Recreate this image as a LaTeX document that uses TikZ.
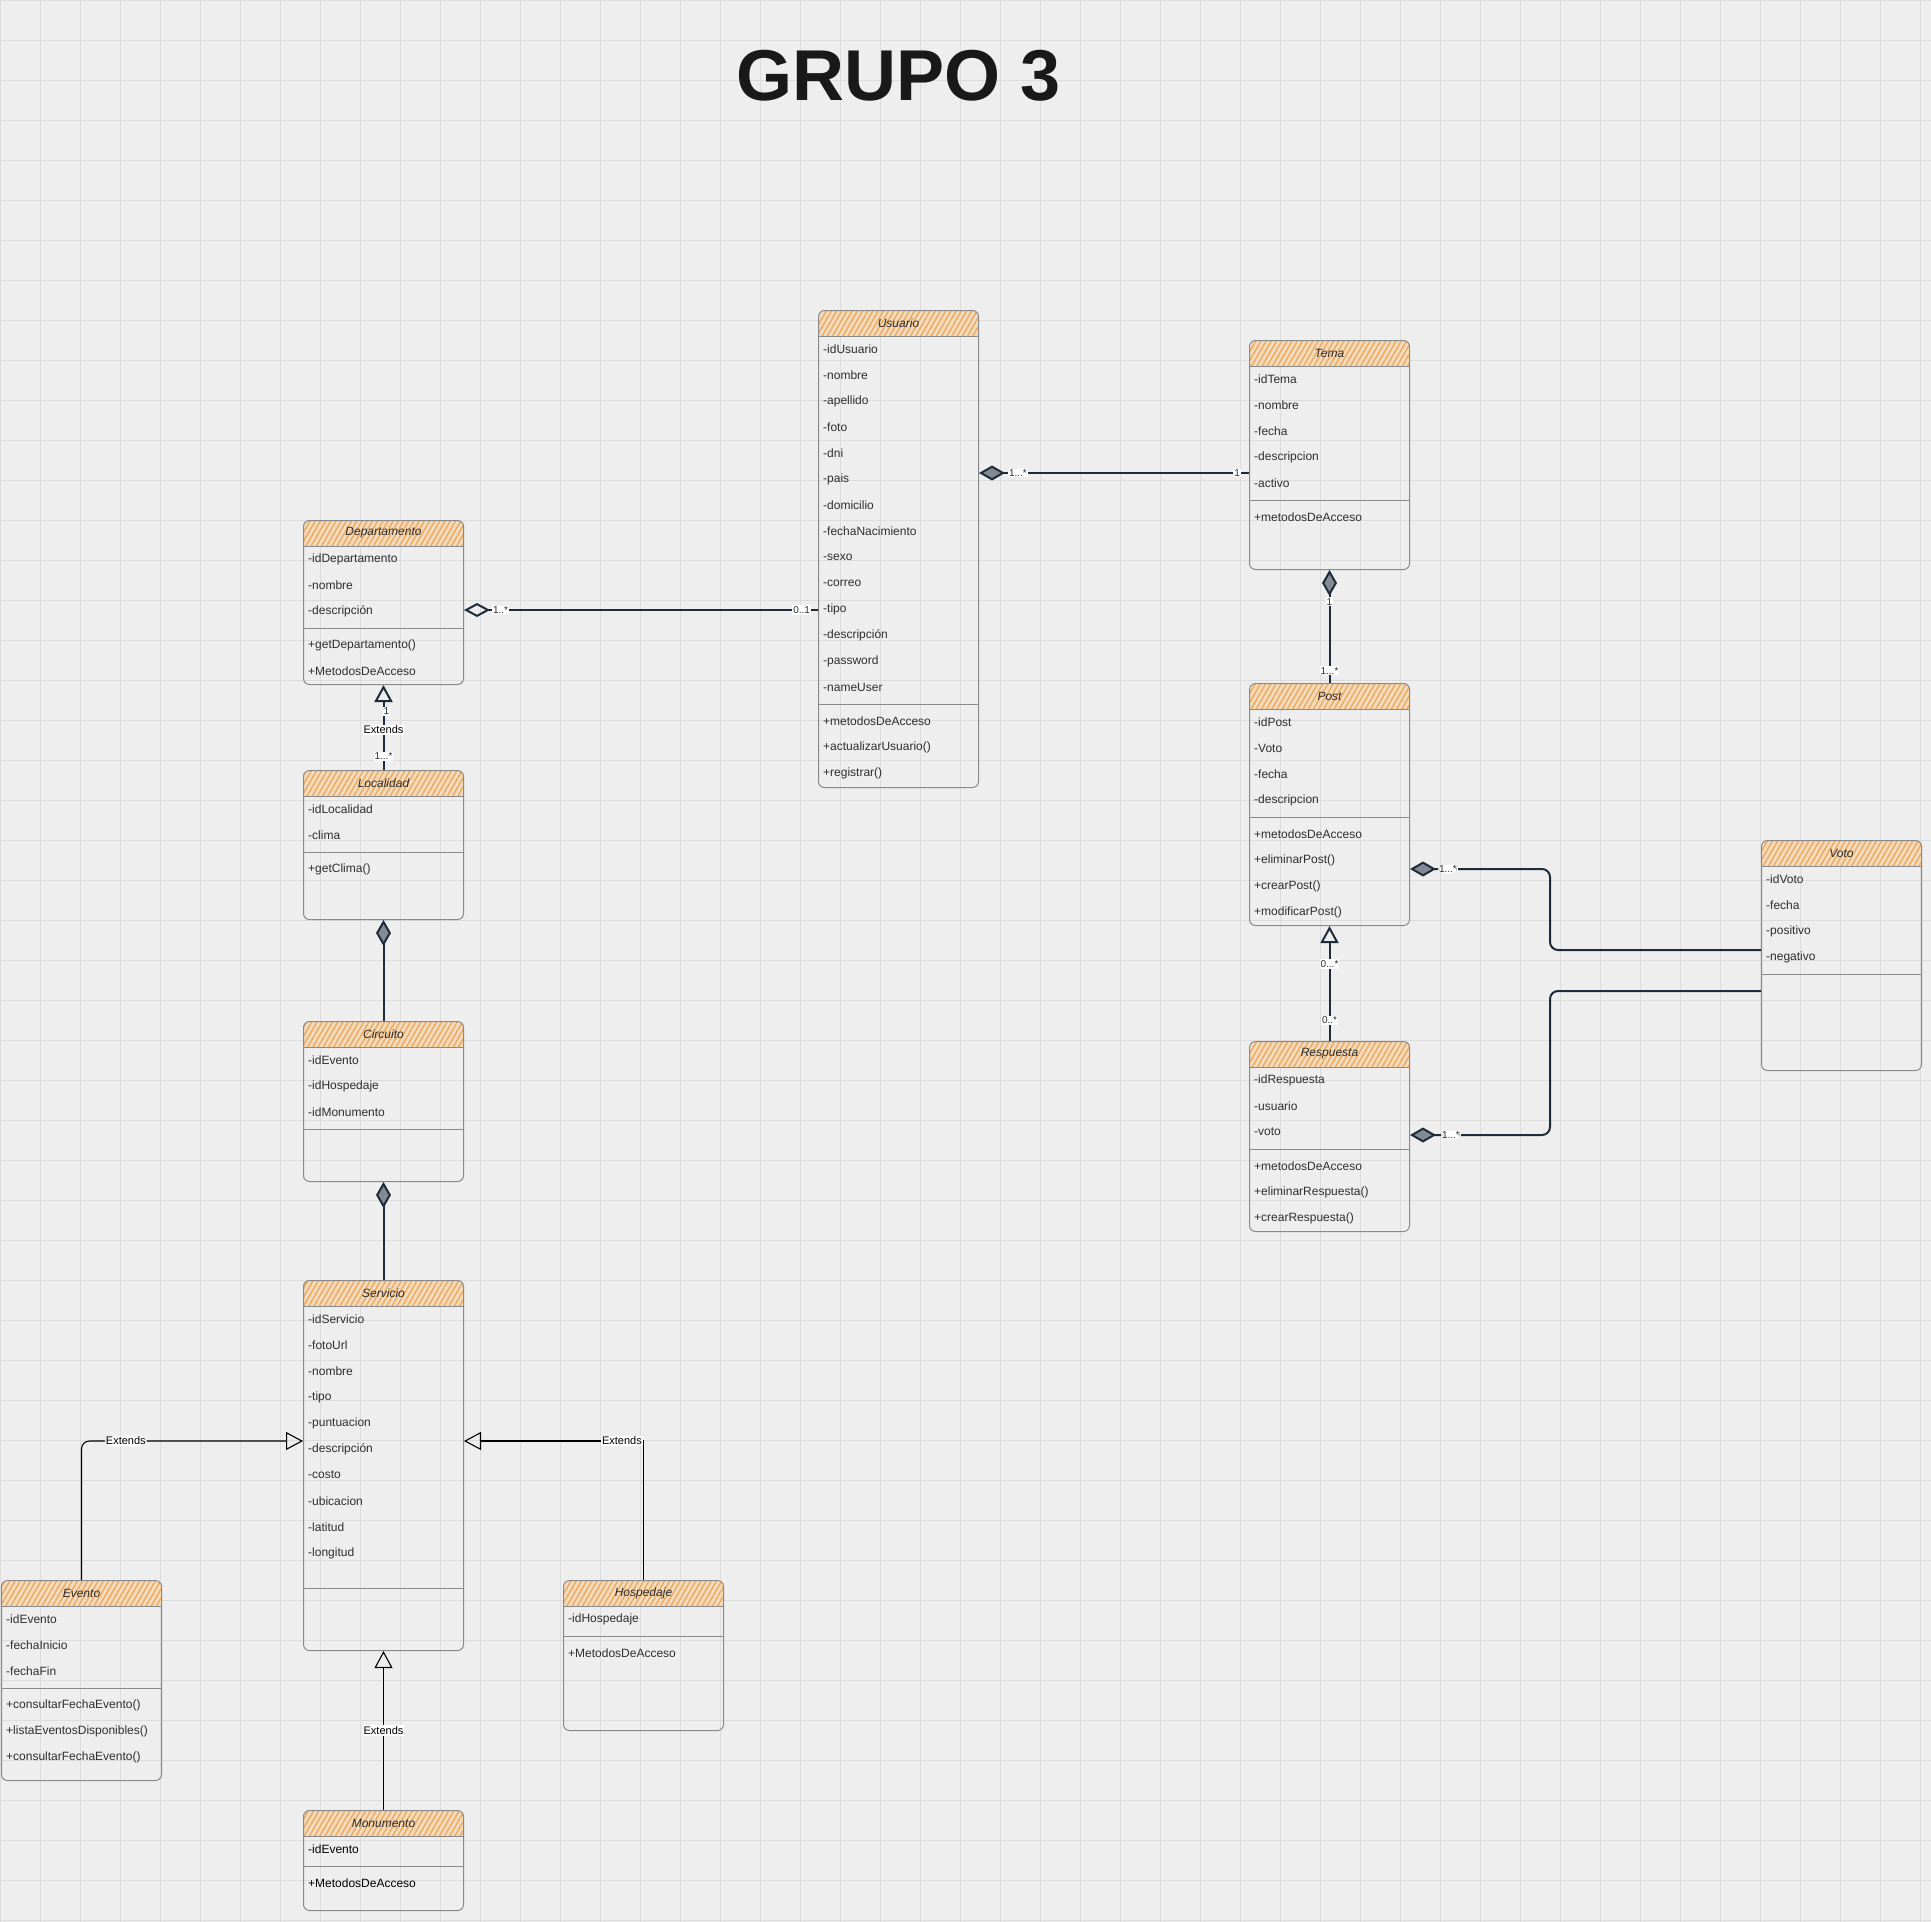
\documentclass[tikz,border=0pt]{standalone}
\usepackage{fontspec}
\setmainfont{Liberation Sans}
\usetikzlibrary{arrows.meta,patterns.meta,calc}

\definecolor{bgcol}{HTML}{EEEEEE}
\definecolor{gridcol}{HTML}{DCDCDC}
\definecolor{boxcol}{HTML}{8A8A8A}
\definecolor{headcol}{HTML}{F2DCC0}
\definecolor{hatchcol}{HTML}{F0A85A}
\definecolor{txtcol}{HTML}{2E2E2E}
\definecolor{navy}{HTML}{1E2B3A}

\tikzset{comp/.tip={Diamond[length=26pt,width=15pt,fill=navy!55]}}
\tikzset{agg/.tip={Diamond[open,length=26pt,width=14pt]}}
\tikzset{gen/.tip={Triangle[open,length=17pt,width=18pt]}}

\begin{document}
\begin{tikzpicture}[x=1pt, y=-1pt]
      \tikzstyle{cbox} = [draw=boxcol, line width=1pt, rounded corners=6pt, inner sep=0pt,
        minimum width=160pt, anchor=north west,
        path picture={
          \fill[headcol, sharp corners] (path picture bounding box.north west) rectangle ([yshift=-26pt]path picture bounding box.north east);
          \fill[sharp corners, pattern={Lines[angle=60,distance=4.5pt,line width=1.4pt]}, pattern color=hatchcol]
            (path picture bounding box.north west) rectangle ([yshift=-26pt]path picture bounding box.north east);
          \draw[boxcol, line width=1pt, sharp corners] ([yshift=-26pt]path picture bounding box.north west) -- ([yshift=-26pt]path picture bounding box.north east);
        }]
      \tikzstyle{ctitle} = [inner sep=0pt, font=\fontsize{12}{14}\selectfont\itshape, text=txtcol]
      \tikzstyle{attr} = [anchor=west, inner sep=0pt, font=\fontsize{12}{14}\selectfont, text=txtcol]
      \tikzstyle{sepline} = [draw=boxcol, line width=1pt]
      \tikzstyle{navyline} = [draw=navy, line width=2pt]
      \tikzstyle{extline} = [draw=black, line width=1.1pt]
      \tikzstyle{mult} = [fill=white, inner sep=1pt, font=\fontsize{10}{11}\selectfont, text=txtcol]
      \tikzstyle{extlabel} = [fill=white, inner sep=1pt, font=\fontsize{11}{12}\selectfont, text=black]

      % background and grid
      \useasboundingbox (0,0) rectangle (1931,1922);
      \fill[bgcol] (0,0) rectangle (1931,1922);
      \foreach \gx in {0,40,...,1920}
        \draw[gridcol, line width=0.8pt] (\gx,0) -- (\gx,1922);
      \foreach \gy in {0,40,...,1920}
        \draw[gridcol, line width=0.8pt] (0,\gy) -- (1931,\gy);

      \node[font=\fontsize{72}{72}\selectfont\bfseries, text=black!90] (titulo) at (899,76) {GRUPO 3};

      % Usuario
      \node[cbox, minimum height=477pt] (usuario) at (818,310) {};
      \node[ctitle] (usuario-t) at ([yshift=-13pt]usuario.north) {Usuario};
      \foreach \a [count=\i] in {-idUsuario,-nombre,-apellido,-foto,-dni,-pais,-domicilio,-fechaNacimiento,-sexo,-correo,-tipo,-descripción,-password,-nameUser}
        \node[attr] (usuario-a\i) at ([xshift=5pt,yshift={-13pt-26pt*\i}]usuario.north west) {\a};
      \draw[sepline] ([yshift=-394pt]usuario.north west) -- ([yshift=-394pt]usuario.north east);
      \foreach \m [count=\i] in {+metodosDeAcceso,+actualizarUsuario(),+registrar()}
        \node[attr] (usuario-m\i) at ([xshift=5pt,yshift={-385pt-26pt*\i}]usuario.north west) {\m};

      % Tema
      \node[cbox, minimum height=229pt] (tema) at (1249,340) {};
      \node[ctitle] (tema-t) at ([yshift=-13pt]tema.north) {Tema};
      \foreach \a [count=\i] in {-idTema,-nombre,-fecha,-descripcion,-activo}
        \node[attr] (tema-a\i) at ([xshift=5pt,yshift={-13pt-26pt*\i}]tema.north west) {\a};
      \draw[sepline] ([yshift=-160pt]tema.north west) -- ([yshift=-160pt]tema.north east);
      \node[attr] (tema-m1) at ([xshift=5pt,yshift=-177pt]tema.north west) {+metodosDeAcceso};

      % Departamento
      \node[cbox, minimum height=164pt] (departamento) at (303,520) {};
      \node[ctitle] (departamento-t) at ([yshift=-13pt]departamento.north) {Departamento};
      \foreach \a [count=\i] in {-idDepartamento,-nombre,-descripción}
        \node[attr] (departamento-a\i) at ([xshift=5pt,yshift={-13pt-26pt*\i}]departamento.north west) {\a};
      \draw[sepline] ([yshift=-108pt]departamento.north west) -- ([yshift=-108pt]departamento.north east);
      \foreach \m [count=\i] in {+getDepartamento(),+MetodosDeAcceso}
        \node[attr] (departamento-m\i) at ([xshift=5pt,yshift={-99pt-26pt*\i}]departamento.north west) {\m};

      % Localidad
      \node[cbox, minimum height=149pt] (localidad) at (303,770) {};
      \node[ctitle] (localidad-t) at ([yshift=-13pt]localidad.north) {Localidad};
      \foreach \a [count=\i] in {-idLocalidad,-clima}
        \node[attr] (localidad-a\i) at ([xshift=5pt,yshift={-13pt-26pt*\i}]localidad.north west) {\a};
      \draw[sepline] ([yshift=-82pt]localidad.north west) -- ([yshift=-82pt]localidad.north east);
      \node[attr] (localidad-m1) at ([xshift=5pt,yshift=-99pt]localidad.north west) {+getClima()};

      % Circuito
      \node[cbox, minimum height=160pt] (circuito) at (303,1021) {};
      \node[ctitle] (circuito-t) at ([yshift=-13pt]circuito.north) {Circuito};
      \foreach \a [count=\i] in {-idEvento,-idHospedaje,-idMonumento}
        \node[attr] (circuito-a\i) at ([xshift=5pt,yshift={-13pt-26pt*\i}]circuito.north west) {\a};
      \draw[sepline] ([yshift=-108pt]circuito.north west) -- ([yshift=-108pt]circuito.north east);

      % Servicio
      \node[cbox, minimum height=370pt] (servicio) at (303,1280) {};
      \node[ctitle] (servicio-t) at ([yshift=-13pt]servicio.north) {Servicio};
      \foreach \a [count=\i] in {-idServicio,-fotoUrl,-nombre,-tipo,-puntuacion,-descripción,-costo,-ubicacion,-latitud,-longitud}
        \node[attr] (servicio-a\i) at ([xshift=5pt,yshift={-13pt-26pt*\i}]servicio.north west) {\a};
      \draw[sepline] ([yshift=-308pt]servicio.north west) -- ([yshift=-308pt]servicio.north east);

      % Evento
      \node[cbox, minimum height=200pt] (evento) at (1,1580) {};
      \node[ctitle] (evento-t) at ([yshift=-13pt]evento.north) {Evento};
      \foreach \a [count=\i] in {-idEvento,-fechaInicio,-fechaFin}
        \node[attr] (evento-a\i) at ([xshift=5pt,yshift={-13pt-26pt*\i}]evento.north west) {\a};
      \draw[sepline] ([yshift=-108pt]evento.north west) -- ([yshift=-108pt]evento.north east);
      \foreach \m [count=\i] in {+consultarFechaEvento(),+listaEventosDisponibles(),+consultarFechaEvento()}
        \node[attr] (evento-m\i) at ([xshift=5pt,yshift={-99pt-26pt*\i}]evento.north west) {\m};

      % Hospedaje
      \node[cbox, minimum height=150pt] (hospedaje) at (563,1580) {};
      \node[ctitle] (hospedaje-t) at ([yshift=-13pt]hospedaje.north) {Hospedaje};
      \node[attr] (hospedaje-a1) at ([xshift=5pt,yshift=-39pt]hospedaje.north west) {-idHospedaje};
      \draw[sepline] ([yshift=-56pt]hospedaje.north west) -- ([yshift=-56pt]hospedaje.north east);
      \node[attr] (hospedaje-m1) at ([xshift=5pt,yshift=-73pt]hospedaje.north west) {+MetodosDeAcceso};

      % Monumento
      \node[cbox, minimum height=100pt] (monumento) at (303,1810) {};
      \node[ctitle] (monumento-t) at ([yshift=-13pt]monumento.north) {Monumento};
      \node[attr, text=black] (monumento-a1) at ([xshift=5pt,yshift=-39pt]monumento.north west) {-idEvento};
      \draw[sepline] ([yshift=-56pt]monumento.north west) -- ([yshift=-56pt]monumento.north east);
      \node[attr, text=black] (monumento-m1) at ([xshift=5pt,yshift=-73pt]monumento.north west) {+MetodosDeAcceso};

      % Post
      \node[cbox, minimum height=242pt] (post) at (1249,683) {};
      \node[ctitle] (post-t) at ([yshift=-13pt]post.north) {Post};
      \foreach \a [count=\i] in {-idPost,-Voto,-fecha,-descripcion}
        \node[attr] (post-a\i) at ([xshift=5pt,yshift={-13pt-26pt*\i}]post.north west) {\a};
      \draw[sepline] ([yshift=-134pt]post.north west) -- ([yshift=-134pt]post.north east);
      \foreach \m [count=\i] in {+metodosDeAcceso,+eliminarPost(),+crearPost(),+modificarPost()}
        \node[attr] (post-m\i) at ([xshift=5pt,yshift={-125pt-26pt*\i}]post.north west) {\m};

      % Respuesta
      \node[cbox, minimum height=190pt] (respuesta) at (1249,1041) {};
      \node[ctitle] (respuesta-t) at ([yshift=-13pt]respuesta.north) {Respuesta};
      \foreach \a [count=\i] in {-idRespuesta,-usuario,-voto}
        \node[attr] (respuesta-a\i) at ([xshift=5pt,yshift={-13pt-26pt*\i}]respuesta.north west) {\a};
      \draw[sepline] ([yshift=-108pt]respuesta.north west) -- ([yshift=-108pt]respuesta.north east);
      \foreach \m [count=\i] in {+metodosDeAcceso,+eliminarRespuesta(),+crearRespuesta()}
        \node[attr] (respuesta-m\i) at ([xshift=5pt,yshift={-99pt-26pt*\i}]respuesta.north west) {\m};

      % Voto
      \node[cbox, minimum height=230pt] (voto) at (1761,840) {};
      \node[ctitle] (voto-t) at ([yshift=-13pt]voto.north) {Voto};
      \foreach \a [count=\i] in {-idVoto,-fecha,-positivo,-negativo}
        \node[attr] (voto-a\i) at ([xshift=5pt,yshift={-13pt-26pt*\i}]voto.north west) {\a};
      \draw[sepline] ([yshift=-134pt]voto.north west) -- ([yshift=-134pt]voto.north east);

      % relations
      \draw[navyline, comp-] ([yshift=-163pt]usuario.north east) -- ([yshift=-163pt]usuario.north east -| tema.west)
        node[mult, pos=0, anchor=west, xshift=28pt] (m-ut1) {1...*}
        node[mult, pos=1, anchor=east, xshift=-7pt] (m-ut2) {1};
      \draw[navyline, agg-] ([yshift=-90pt]departamento.north east) -- ([yshift=-90pt]departamento.north east -| usuario.west)
        node[mult, pos=0, anchor=west, xshift=27pt] (m-du1) {1..*}
        node[mult, pos=1, anchor=east, xshift=-6pt] (m-du2) {0..1};
      \draw[navyline, -gen] (localidad.north) -- (departamento.south)
        node[mult, pos=0.16] (m-ld1) {1...*}
        node[extlabel, pos=0.47] (m-ld2) {Extends}
        node[mult, pos=0.69, xshift=3pt] (m-ld3) {1};
      \draw[navyline, -comp] (circuito.north) -- (localidad.south);
      \draw[navyline, -comp] (servicio.north) -- (circuito.south);

      \draw[extline, -gen, rounded corners=8pt] (evento.north) |- ([yshift=-161pt]servicio.north west)
        node[extlabel, pos=0.6] (m-es) {Extends};
      \draw[extline, -gen] (hospedaje.north) |- ([yshift=-161pt]servicio.north east)
        node[extlabel, pos=0.56] (m-hs) {Extends};
      \draw[extline, -gen] (monumento.north) -- (servicio.south)
        node[extlabel, pos=0.5] (m-ms) {Extends};

      \draw[navyline, -comp] (post.north) -- (tema.south)
        node[mult, pos=0.11] (m-pt1) {1...*}
        node[mult, pos=0.72] (m-pt2) {1};
      \draw[navyline, -gen] (respuesta.north) -- (post.south)
        node[mult, pos=0.18] (m-rp1) {0..*}
        node[mult, pos=0.67] (m-rp2) {0...*};
      \draw[navyline, -comp, rounded corners=8pt] ([yshift=-110pt]voto.north west) -- ++(-211,0) |- ([yshift=-186pt]post.north east)
        node[mult, pos=1, anchor=west, xshift=27pt] (m-vp) {1...*};
      \draw[navyline, -comp, rounded corners=8pt] ([yshift=-151pt]voto.north west) -- ++(-211,0) |- ([yshift=-94pt]respuesta.north east)
        node[mult, pos=1, anchor=west, xshift=30pt] (m-vr) {1...*};
\end{tikzpicture}
\end{document}
